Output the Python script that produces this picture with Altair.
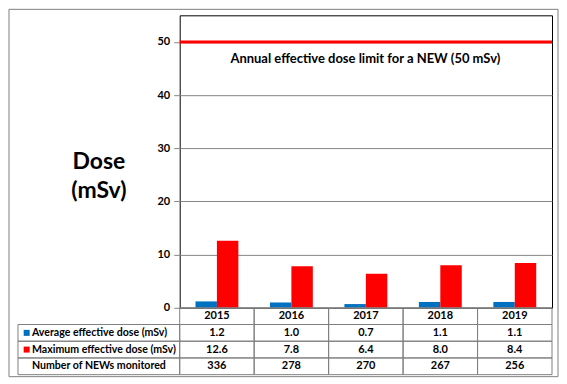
import altair as alt
import pandas as pd

# ---- data ----
years = ["2015", "2016", "2017", "2018", "2019"]
avg_dose = [1.2, 1.0, 0.7, 1.1, 1.1]
max_dose = [12.6, 7.8, 6.4, 8.0, 8.4]
news_monitored = [336, 278, 270, 267, 256]
series_names = ["Average effective dose (mSv)", "Maximum effective dose (mSv)"]
series_colors = ["#0070C0", "#FF0000"]
table_rows = ["year", "avg", "max", "num"]
row_labels = ["Average effective dose (mSv)", "Maximum effective dose (mSv)",
              "Number of NEWs monitored"]
y_ticks = [0, 10, 20, 30, 40, 50]
limit_value = 50
limit_label = "Annual effective dose limit for a NEW (50 mSv)"
y_title = "Dose\n(mSv)"

FONT = "Lato"
GRID = "#868686"
LINE = "#7f7f7f"

# ---- bar chart ----
bars_df = pd.DataFrame({
    "year": years * 2,
    "series": [series_names[0]] * len(years) + [series_names[1]] * len(years),
    "dose": avg_dose + max_dose,
})
color_scale = alt.Scale(domain=series_names, range=series_colors)

bars = alt.Chart(bars_df).mark_bar().encode(
    x=alt.X("year:N", scale=alt.Scale(domain=years, paddingInner=0.424, paddingOuter=0.212), axis=None),
    xOffset=alt.XOffset("series:N", scale=alt.Scale(domain=series_names, paddingInner=0, paddingOuter=0)),
    y=alt.Y("dose:Q", scale=alt.Scale(domain=[0, 55], nice=False),
            axis=alt.Axis(values=y_ticks, title=None, grid=True, gridColor=GRID, gridWidth=1,
                          tickColor=GRID, tickSize=6, labelFont=FONT, labelFontSize=11,
                          labelFontWeight="bold", labelColor="#000", labelPadding=4, domain=False)),
    color=alt.Color("series:N", scale=color_scale, legend=None),
)
limit_df = pd.DataFrame({"dose": [limit_value], "label": [limit_label]})
limit_rule = alt.Chart(limit_df).mark_rule(color="#FF0000", strokeWidth=3).encode(y="dose:Q")
limit_text = alt.Chart(limit_df).mark_text(font=FONT, fontSize=13, fontWeight="bold", color="#000",
                                           baseline="middle", align="center", dy=17).encode(
    y="dose:Q", x=alt.value(186), text="label:N")
bar_panel = alt.layer(bars, limit_rule, limit_text).properties(
    width=373, height=293, view=alt.ViewConfig(stroke="#000", strokeWidth=1))

# ---- left panel: title text and outer frame ----
title_df = pd.DataFrame({"t": [y_title]})
frame = alt.Chart(title_df).mark_rect(fillOpacity=0, stroke="#808080", strokeWidth=1).encode(
    x=alt.value(-9), x2=alt.value(541), y=alt.value(-6), y2=alt.value(362))
title_txt = alt.Chart(title_df).mark_text(font=FONT, fontSize=23, fontWeight="bold", lineBreak="\n",
                                          lineHeight=29, baseline="alphabetic", align="center",
                                          color="#000").encode(
    x=alt.value(81), y=alt.value(154), text="t:N")
left_panel = alt.layer(frame, title_txt).properties(
    width=162, height=293, view=alt.ViewConfig(stroke="transparent"))

# ---- table: row labels ----
lab_df = pd.DataFrame({"row": table_rows[1:], "label": row_labels, "col": ["c"] * 3})
row_scale = alt.Scale(domain=table_rows, paddingInner=0, paddingOuter=0)
lab_cells = alt.Chart(lab_df).mark_rect(fillOpacity=0, stroke=LINE, strokeWidth=1).encode(
    x=alt.X("col:N", axis=None, scale=alt.Scale(paddingInner=0, paddingOuter=0)),
    y=alt.Y("row:N", scale=row_scale, axis=None))
lab_text = alt.Chart(lab_df).mark_text(font=FONT, fontSize=10.6, fontWeight="bold", align="left",
                                       baseline="middle", color="#000").encode(
    x=alt.value(14), y=alt.Y("row:N", scale=row_scale, axis=None), text="label:N")
sw_df = pd.DataFrame({"row": table_rows[1:3], "series": series_names})
lab_sw = alt.Chart(sw_df).mark_square(size=36, opacity=1).encode(
    x=alt.value(8.7), y=alt.Y("row:N", scale=row_scale, axis=None),
    color=alt.Color("series:N", scale=color_scale, legend=None))
label_panel = alt.layer(lab_cells, lab_sw, lab_text).properties(
    width=162, height=67, view=alt.ViewConfig(stroke="transparent"))

# ---- table: values ----
val_df = pd.DataFrame({
    "year": years * 4,
    "row": [r for r in table_rows for _ in years],
    "text": years + [f"{v:.1f}" for v in avg_dose] + [f"{v:.1f}" for v in max_dose]
            + [str(n) for n in news_monitored],
})
col_scale = alt.Scale(domain=years, paddingInner=0, paddingOuter=0)
val_cells = alt.Chart(val_df).mark_rect(fillOpacity=0, stroke=LINE, strokeWidth=1).encode(
    x=alt.X("year:N", scale=col_scale, axis=None), y=alt.Y("row:N", scale=row_scale, axis=None))
val_text = alt.Chart(val_df).mark_text(font=FONT, fontSize=11, fontWeight="bold", align="center",
                                       baseline="middle", color="#000").encode(
    x=alt.X("year:N", scale=col_scale, axis=None), y=alt.Y("row:N", scale=row_scale, axis=None),
    text="text:N")
value_panel = alt.layer(val_cells, val_text).properties(
    width=373, height=67, view=alt.ViewConfig(stroke="transparent"))

chart = alt.concat(left_panel, bar_panel, label_panel, value_panel, columns=2,
                   spacing=0, bounds="flush").properties(
    padding=0, background="#ffffff").configure(font=FONT)

chart.save("out.html", embed_options={"renderer": "svg", "actions": False})
